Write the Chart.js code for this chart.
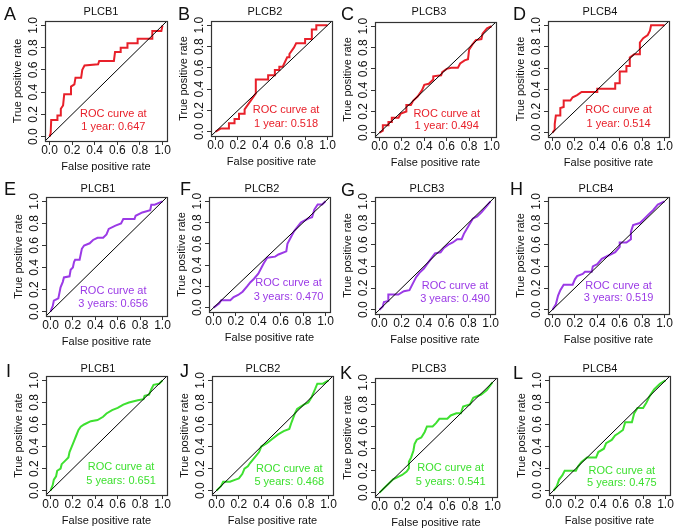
<!DOCTYPE html>
<html><head><meta charset="utf-8">
<script src="https://cdn.jsdelivr.net/npm/chart.js@4.4.0/dist/chart.umd.min.js"></script>
<style>
html,body{margin:0;padding:0;background:#fff;}
#wrap{position:relative;width:677px;height:532px;overflow:hidden;background:#fff;}
#wrap canvas{position:absolute;}
.lt{position:absolute;font-family:"Liberation Sans",Arial,sans-serif;font-size:18px;color:#111;line-height:1;}
</style></head><body><div id="wrap"></div>
<script>
// ---------- data ----------
const genes = ['PLCB1','PLCB2','PLCB3','PLCB4'];
const panelLetters = ['A','B','C','D','E','F','G','H','I','J','K','L'];
const timeLabels = ['1 year','3 years','5 years'];
const aucLabels = ['0.647','0.518','0.494','0.514','0.656','0.470','0.490','0.519','0.651','0.468','0.541','0.475'];
const tickValues = [0,0.2,0.4,0.6,0.8,1.0];
const diagX = [-0.04,1.04];
const diagY = [-0.04,1.04];

const fprA = [0,0.01,0.015,0.07,0.07,0.1,0.1,0.12,0.13,0.19,0.19,0.22,0.23,0.28,0.29,0.31,0.43,0.44,0.57,0.58,0.63,0.63,0.69,0.69,0.78,0.78,0.91,0.91,0.99,1];
const tprA = [0,0.03,0.15,0.15,0.19,0.19,0.25,0.28,0.38,0.38,0.45,0.47,0.53,0.53,0.6,0.64,0.65,0.68,0.68,0.76,0.76,0.8,0.8,0.84,0.84,0.88,0.88,0.95,0.95,1];
const fprB = [0,0.045,0.12,0.12,0.17,0.17,0.21,0.21,0.26,0.26,0.36,0.36,0.47,0.47,0.53,0.53,0.57,0.57,0.6,0.64,0.66,0.66,0.7,0.72,0.8,0.8,0.86,0.86,0.9,0.9,1];
const tprB = [0,0.03,0.03,0.08,0.08,0.12,0.12,0.17,0.17,0.21,0.36,0.49,0.49,0.53,0.53,0.58,0.58,0.61,0.61,0.7,0.7,0.73,0.79,0.83,0.83,0.87,0.87,0.96,0.96,1,1];
const fprC = [0,0.03,0.03,0.08,0.08,0.11,0.11,0.17,0.19,0.24,0.24,0.28,0.3,0.34,0.38,0.4,0.44,0.48,0.48,0.55,0.56,0.6,0.64,0.7,0.72,0.76,0.79,0.8,0.83,0.86,0.91,0.92,0.96,1];
const tprC = [0,0.02,0.07,0.07,0.1,0.1,0.14,0.14,0.18,0.2,0.26,0.26,0.3,0.34,0.4,0.45,0.46,0.5,0.53,0.54,0.57,0.6,0.61,0.61,0.65,0.68,0.69,0.78,0.83,0.87,0.88,0.93,0.98,1];
const fprD = [0,0.02,0.02,0.03,0.07,0.07,0.1,0.1,0.16,0.18,0.22,0.26,0.4,0.4,0.56,0.56,0.6,0.6,0.66,0.66,0.69,0.69,0.73,0.78,0.78,0.81,0.85,0.87,0.88,1];
const tprD = [0,0.03,0.08,0.16,0.16,0.23,0.24,0.3,0.3,0.33,0.35,0.38,0.38,0.41,0.41,0.46,0.46,0.57,0.57,0.62,0.62,0.7,0.73,0.73,0.84,0.88,0.91,0.95,1,1];
const fprE = [0,0.02,0.03,0.07,0.08,0.09,0.11,0.12,0.17,0.18,0.2,0.21,0.22,0.26,0.27,0.28,0.3,0.35,0.38,0.42,0.47,0.5,0.52,0.58,0.63,0.65,0.75,0.76,0.82,0.89,0.9,0.93,1];
const tprE = [0,0.05,0.1,0.12,0.17,0.22,0.27,0.31,0.32,0.38,0.4,0.45,0.47,0.47,0.52,0.57,0.6,0.62,0.65,0.67,0.67,0.7,0.75,0.78,0.8,0.84,0.84,0.87,0.9,0.92,0.97,0.97,1];
const fprF = [0,0.05,0.07,0.15,0.18,0.22,0.26,0.3,0.33,0.36,0.4,0.43,0.45,0.48,0.55,0.58,0.65,0.66,0.7,0.72,0.78,0.85,0.88,0.9,0.93,0.97,1];
const tprF = [0,0.04,0.07,0.07,0.1,0.12,0.15,0.2,0.24,0.27,0.32,0.38,0.42,0.47,0.48,0.5,0.53,0.6,0.68,0.72,0.8,0.84,0.85,0.92,0.97,0.97,1];
const fprG = [0,0.03,0.04,0.08,0.08,0.17,0.22,0.27,0.3,0.33,0.36,0.4,0.45,0.5,0.55,0.58,0.62,0.66,0.7,0.74,0.76,0.8,0.84,0.88,0.92,0.96,1];
const tprG = [0,0.03,0.07,0.08,0.14,0.14,0.17,0.18,0.24,0.3,0.34,0.38,0.45,0.52,0.53,0.57,0.6,0.62,0.65,0.65,0.7,0.77,0.84,0.86,0.9,0.95,1];
const fprH = [0,0.03,0.05,0.07,0.1,0.18,0.2,0.22,0.27,0.29,0.35,0.36,0.4,0.44,0.5,0.56,0.6,0.6,0.66,0.7,0.7,0.72,0.78,0.82,0.86,0.9,0.94,1];
const tprH = [0,0.05,0.13,0.18,0.23,0.23,0.28,0.31,0.33,0.35,0.35,0.4,0.42,0.47,0.5,0.53,0.58,0.62,0.62,0.65,0.72,0.78,0.8,0.84,0.88,0.92,0.97,1];
const fprI = [0,0.02,0.03,0.05,0.06,0.09,0.1,0.13,0.16,0.17,0.19,0.21,0.23,0.25,0.27,0.3,0.36,0.42,0.47,0.5,0.55,0.6,0.65,0.7,0.78,0.83,0.84,0.88,0.9,0.92,0.97,1];
const tprI = [0,0.05,0.1,0.13,0.18,0.2,0.24,0.27,0.3,0.35,0.4,0.45,0.5,0.55,0.58,0.6,0.63,0.64,0.67,0.7,0.73,0.75,0.78,0.8,0.82,0.83,0.86,0.87,0.92,0.96,0.97,1];
const fprJ = [0,0.04,0.06,0.12,0.17,0.2,0.23,0.25,0.28,0.3,0.34,0.38,0.4,0.45,0.5,0.55,0.6,0.65,0.67,0.7,0.72,0.78,0.82,0.85,0.88,0.9,0.95,1];
const tprJ = [0,0.04,0.08,0.08,0.1,0.11,0.15,0.2,0.22,0.25,0.3,0.35,0.4,0.43,0.47,0.51,0.54,0.56,0.62,0.7,0.74,0.78,0.8,0.85,0.92,0.97,0.97,1];
const fprK = [0,0.03,0.05,0.08,0.12,0.16,0.2,0.24,0.26,0.26,0.28,0.3,0.31,0.33,0.37,0.4,0.42,0.47,0.5,0.53,0.6,0.63,0.68,0.72,0.74,0.8,0.83,0.9,0.95,1];
const tprK = [0,0.03,0.05,0.08,0.12,0.14,0.16,0.19,0.22,0.28,0.32,0.38,0.44,0.48,0.5,0.55,0.6,0.6,0.63,0.67,0.67,0.7,0.72,0.72,0.78,0.8,0.86,0.89,0.93,1];
const fprL = [0,0.03,0.05,0.08,0.1,0.2,0.22,0.25,0.3,0.38,0.4,0.45,0.47,0.52,0.55,0.58,0.62,0.64,0.7,0.72,0.75,0.8,0.83,0.86,0.9,0.95,1];
const tprL = [0,0.04,0.1,0.14,0.18,0.18,0.22,0.26,0.3,0.3,0.35,0.38,0.43,0.46,0.5,0.52,0.55,0.62,0.62,0.7,0.75,0.75,0.8,0.86,0.92,0.97,1];

const fprSeries = [fprA,fprB,fprC,fprD,fprE,fprF,fprG,fprH,fprI,fprJ,fprK,fprL];
const tprSeries = [tprA,tprB,tprC,tprD,tprE,tprF,tprG,tprH,tprI,tprJ,tprK,tprL];

// ---------- styles & layout ----------
const rowColors = ['#e8202a','#9b3ae6','#3ee030'];
const FONT = '"Liberation Sans", Arial, Helvetica, sans-serif';
// plot box [left, top, width, height] in page pixels
const boxes = [
  [45,21,122,120],[211,21,121,115],[375,22,121,115],[548,21,121,116],
  [46,197,121,119],[209,197,121,115],[375,197,120,117],[548,197,121,117],
  [46,376,121,119],[212,376,121,119],[375,378,122,119],[549,376,121,119]
];
const titlePos = [[101,12],[265,12],[429,12],[600,12],[98,189],[262,189],[427,189],[596,189],[98,369],[263,369],[429,369],[600,369]];
const letterPos = [[4,5],[178,5],[341,5],[513,5],[4,180],[180,180],[341,181],[510,180],[6,362],[180,362],[340,364],[513,364]];
const labelPos = [[0.565,0.2,0.09],[0.63,0.2,0.07],[0.6,0.18,0.06],[0.59,0.21,0.08],
                  [0.56,0.19,0.07],[0.67,0.23,0.1],[0.68,0.22,0.1],[0.59,0.22,0.11],
                  [0.63,0.21,0.09],[0.65,0.2,0.08],[0.63,0.22,0.1],[0.61,0.18,0.07]];

const PAD = {left:4, top:20, right:4, bottom:3};
const YW = 34, XH = 33;

const decor = {
  id:'rocDecor',
  afterDraw(chart, args, o){
    const {ctx, chartArea:a, scales:{x, y}} = chart;
    ctx.save();
    ctx.strokeStyle = '#333'; ctx.lineWidth = 1.2;
    ctx.strokeRect(Math.round(a.left)+0.5, Math.round(a.top)+0.5, Math.round(a.right-a.left), Math.round(a.bottom-a.top));
    ctx.textAlign = 'center'; ctx.textBaseline = 'middle';
    ctx.fillStyle = '#111';
    ctx.font = '11px ' + FONT;
    ctx.fillText(o.title, o.tx, o.ty);
    ctx.fillStyle = o.color;
    ctx.font = '11px ' + FONT;
    ctx.fillText('ROC curve at', x.getPixelForValue(o.lab[0]), y.getPixelForValue(o.lab[1]));
    ctx.fillText(o.time + ': ' + o.auc, x.getPixelForValue(o.lab[0]), y.getPixelForValue(o.lab[2]));
    ctx.restore();
  }
};

const wrap = document.getElementById('wrap');
function axis(title, isY){
  const s = {
    type:'linear', min:-0.04, max:1.04, position: isY ? 'left' : 'bottom',
    afterBuildTicks(sc){ sc.ticks = tickValues.map(v => ({value:v})); },
    ticks:{ autoSkip:false, color:'#111', font:{family:FONT, size:12},
            callback:v => Number(v).toFixed(1), padding: isY ? -1 : -2 },
    grid:{ display:true, drawOnChartArea:false, drawTicks:true, tickLength:4, color:'#333', lineWidth:1 },
    border:{ display:false },
    title:{ display:true, text:title, color:'#111', font:{family:FONT, size:11}, padding:{top:0,bottom:0} }
  };
  if (isY) {
    s.ticks.minRotation = 90; s.ticks.maxRotation = 90; s.ticks.crossAlign = 'center';
    s.afterFit = sc => { sc.width = YW; };
  } else {
    s.afterFit = sc => { sc.height = XH; };
  }
  return s;
}

for (let i = 0; i < 12; i++) {
  const [bx, by, bw, bh] = boxes[i];
  const row = Math.floor(i/4), col = i % 4;
  const cl = bx - YW - PAD.left, ct = by - PAD.top;
  const cw = PAD.left + YW + bw + PAD.right, ch = PAD.top + bh + XH + PAD.bottom;
  const cv = document.createElement('canvas');
  cv.width = cw; cv.height = ch;
  cv.style.left = cl + 'px'; cv.style.top = ct + 'px';
  cv.style.width = cw + 'px'; cv.style.height = ch + 'px';
  wrap.appendChild(cv);
  const color = rowColors[row];
  const pts = fprSeries[i].map((fx, k) => ({x:fx, y:tprSeries[i][k]}));
  const diag = diagX.map((dx, k) => ({x:dx, y:diagY[k]}));
  new Chart(cv, {
    type:'scatter',
    data:{ datasets:[
      { data:diag, showLine:true, borderColor:'#000', borderWidth:1, pointRadius:0, fill:false },
      { data:pts, showLine:true, borderColor:color, borderWidth:2, pointRadius:0, fill:false, tension:0 }
    ]},
    options:{
      responsive:false, animation:false, devicePixelRatio:1,
      layout:{ padding:PAD },
      events:[],
      plugins:{ legend:{display:false}, tooltip:{enabled:false},
        rocDecor:{ title:genes[col], tx:titlePos[i][0]-cl, ty:titlePos[i][1]-ct, color:color,
                   lab:labelPos[i], time:timeLabels[row], auc:aucLabels[i] } },
      scales:{ x:axis('False positive rate', false), y:axis('True positive rate', true) }
    },
    plugins:[decor]
  });
  const lt = document.createElement('div');
  lt.className = 'lt'; lt.textContent = panelLetters[i];
  lt.style.left = letterPos[i][0] + 'px'; lt.style.top = letterPos[i][1] + 'px';
  wrap.appendChild(lt);
}
</script></body></html>
